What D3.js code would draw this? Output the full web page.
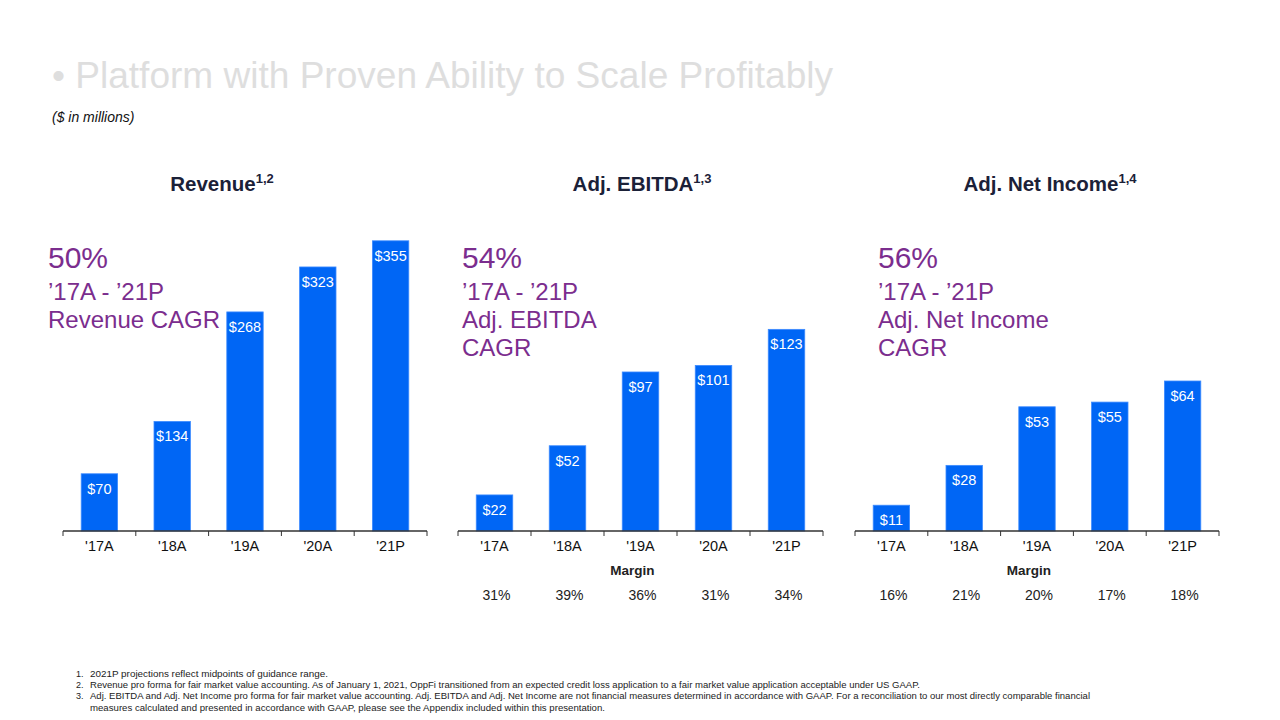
<!DOCTYPE html>
<html>
<head>
<meta charset="utf-8">
<script src="https://cdnjs.cloudflare.com/ajax/libs/d3/7.8.5/d3.min.js"></script>
<style>
  html, body { margin: 0; padding: 0; background: #fff; }
  svg { display: block; font-family: "Liberation Sans", Arial, sans-serif; }
</style>
</head>
<body>
<svg id="chart" width="1280" height="720"></svg>
<script>
// ---- Data ----
const categories = ["'17A", "'18A", "'19A", "'20A", "'21P"];
const revenue = [70, 134, 268, 323, 355];
const ebitda = [22, 52, 97, 101, 123];
const netIncome = [11, 28, 53, 55, 64];
const ebitdaMargin = ["31%", "39%", "36%", "31%", "34%"];
const netIncomeMargin = ["16%", "21%", "20%", "17%", "18%"];
const panelTitles = ["Revenue", "Adj. EBITDA", "Adj. Net Income"];
const panelSups = ["1,2", "1,3", "1,4"];
const cagrPct = ["50%", "54%", "56%"];
const cagrLines = [
  ["\u201917A - \u201921P", "Revenue CAGR"],
  ["\u201917A - \u201921P", "Adj. EBITDA", "CAGR"],
  ["\u201917A - \u201921P", "Adj. Net Income", "CAGR"]
];
const footnotes = [
  "2021P projections reflect midpoints of guidance range.",
  "Revenue pro forma for fair market value accounting. As of January 1, 2021, OppFi transitioned from an expected credit loss application to a fair market value application acceptable under US GAAP.",
  "Adj. EBITDA and Adj. Net Income pro forma for fair market value accounting. Adj. EBITDA and Adj. Net Income are not financial measures determined in accordance with GAAP. For a reconciliation to our most directly comparable financial",
  "measures calculated and presented in accordance with GAAP, please see the Appendix included within this presentation."
];

// ---- Layout ----
const svg = d3.select("#chart");
const BLUE = "#0066F5";
const PURPLE = "#7B2D8E";
const NAVY = "#1B2138";
const baseY = 531;
const plotH = 300;

svg.append("text")
  .attr("x", 52).attr("y", 88)
  .attr("font-size", 36).attr("fill", "#DEDEDE")
  .attr("textLength", 781).attr("lengthAdjust", "spacingAndGlyphs")
  .text("\u2022 Platform with Proven Ability to Scale Profitably");

svg.append("text")
  .attr("x", 52).attr("y", 122)
  .attr("font-size", 14).attr("font-style", "italic").attr("fill", "#111")
  .text("($ in millions)");

const panels = [
  { x0: 63, x1: 427, values: revenue, dmax: 367, margins: null, titleX: 222, cagrX: 48 },
  { x0: 458, x1: 823, values: ebitda, dmax: 183, margins: ebitdaMargin, titleX: 642, cagrX: 462 },
  { x0: 855, x1: 1219, values: netIncome, dmax: 128, margins: netIncomeMargin, titleX: 1050, cagrX: 878 }
];

panels.forEach((p, i) => {
  const g = svg.append("g");
  const x = d3.scaleBand().domain(categories).range([p.x0, p.x1]).paddingInner(0.5).paddingOuter(0.25);
  const y = d3.scaleLinear().domain([0, p.dmax]).range([baseY, baseY - plotH]);

  // title
  const t = g.append("text")
    .attr("x", p.titleX).attr("y", 191)
    .attr("text-anchor", "middle")
    .attr("font-size", 20.5).attr("font-weight", "bold").attr("fill", NAVY);
  t.append("tspan").text(panelTitles[i]);
  t.append("tspan").attr("font-size", 13).attr("dy", -8).text(panelSups[i]);

  // CAGR text
  g.append("text")
    .attr("x", p.cagrX).attr("y", 268)
    .attr("font-size", 30).attr("fill", PURPLE)
    .text(cagrPct[i]);
  cagrLines[i].forEach((line, j) => {
    g.append("text")
      .attr("x", p.cagrX).attr("y", 300 + j * 28)
      .attr("font-size", 24).attr("fill", PURPLE)
      .text(line);
  });

  // bars
  g.selectAll("rect.bar").data(p.values).join("rect")
    .attr("class", "bar")
    .attr("x", (d, k) => x(categories[k]))
    .attr("width", x.bandwidth())
    .attr("y", d => y(d))
    .attr("height", d => baseY - y(d))
    .attr("fill", BLUE)
    .attr("stroke", "#3d8bff").attr("stroke-width", 0.8);

  g.selectAll("text.val").data(p.values).join("text")
    .attr("class", "val")
    .attr("x", (d, k) => x(categories[k]) + x.bandwidth() / 2)
    .attr("y", d => y(d) + 20)
    .attr("text-anchor", "middle")
    .attr("font-size", 14.5).attr("fill", "#fff")
    .text(d => "$" + d);

  // axis
  g.append("line")
    .attr("x1", p.x0).attr("x2", p.x1)
    .attr("y1", baseY).attr("y2", baseY)
    .attr("stroke", "#333").attr("stroke-width", 1.5);
  const step = (p.x1 - p.x0) / categories.length;
  d3.range(categories.length + 1).forEach(k => {
    g.append("line")
      .attr("x1", p.x0 + k * step).attr("x2", p.x0 + k * step)
      .attr("y1", baseY).attr("y2", baseY + 5)
      .attr("stroke", "#333").attr("stroke-width", 1);
  });
  g.selectAll("text.cat").data(categories).join("text")
    .attr("class", "cat")
    .attr("x", d => x(d) + x.bandwidth() / 2)
    .attr("y", 551)
    .attr("text-anchor", "middle")
    .attr("font-size", 14.5).attr("fill", "#111")
    .text(d => d);

  if (p.margins) {
    g.append("text")
      .attr("x", (p.x0 + p.x1) / 2 - 8).attr("y", 575)
      .attr("text-anchor", "middle")
      .attr("font-size", 13.5).attr("font-weight", "bold").attr("fill", "#222")
      .text("Margin");
    g.selectAll("text.mg").data(p.margins).join("text")
      .attr("class", "mg")
      .attr("x", (d, k) => x(categories[k]) + x.bandwidth() / 2 + 2)
      .attr("y", 600)
      .attr("text-anchor", "middle")
      .attr("font-size", 14).attr("fill", "#222")
      .text(d => d);
  }
});

// footnotes
const fnY = [677, 688, 699, 711];
const fnW = [238, 830, 1000, 515];
footnotes.forEach((f, i) => {
  if (i < 3) {
    svg.append("text")
      .attr("x", 76).attr("y", fnY[i])
      .attr("font-size", 9).attr("fill", "#222")
      .text((i + 1) + ".");
  }
  svg.append("text")
    .attr("x", 90).attr("y", fnY[i])
    .attr("font-size", 9).attr("fill", "#222")
    .attr("textLength", fnW[i]).attr("lengthAdjust", "spacingAndGlyphs")
    .text(f);
});
</script>
</body>
</html>
